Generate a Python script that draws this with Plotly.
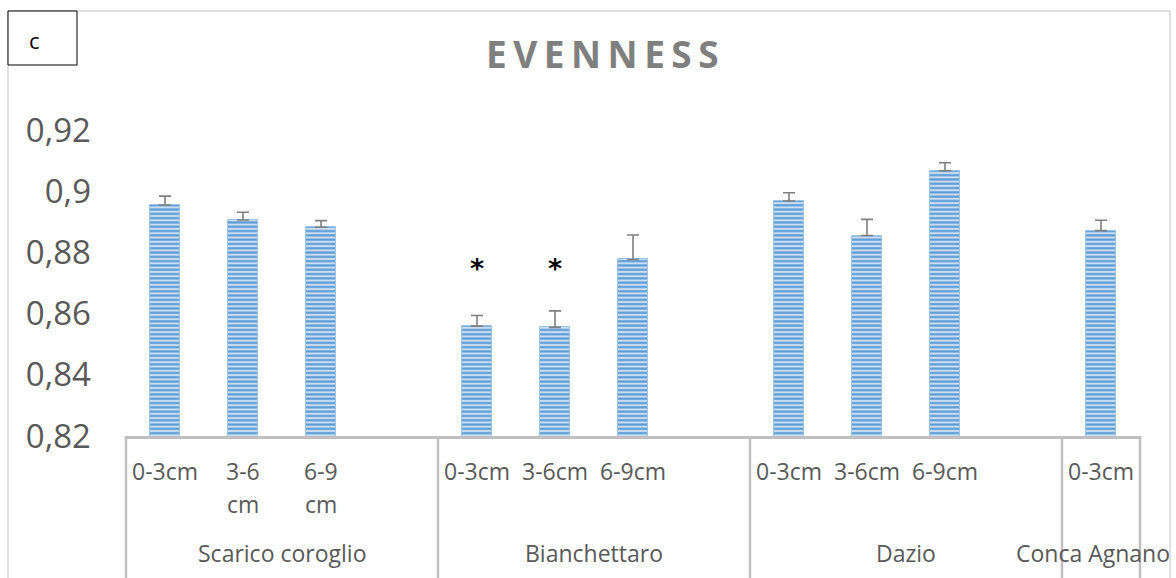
import plotly.graph_objects as go

# ---- data ----
groups = ["Scarico coroglio", "Bianchettaro", "Dazio", "Conca Agnano"]
depths = [["0-3cm", "3-6\ncm", "6-9\ncm"],
          ["0-3cm", "3-6cm", "6-9cm"],
          ["0-3cm", "3-6cm", "6-9cm"],
          ["0-3cm"]]
values = [[0.8955, 0.8906, 0.8882],
          [0.8559, 0.8555, 0.8777],
          [0.8968, 0.8855, 0.9067],
          [0.8871]]
errors = [[0.0029, 0.0025, 0.0022],
          [0.0035, 0.0054, 0.0080],
          [0.0027, 0.0053, 0.0026],
          [0.0034]]
significant = [[False, False, False],
               [True, True, False],
               [False, False, False],
               [False]]
y_ticks = [0.82, 0.84, 0.86, 0.88, 0.90, 0.92]
y_ticktext = ["0,82", "0,84", "0,86", "0,88", "0,9", "0,92"]

# ---- positions: each group gets its bars plus one trailing empty slot ----
xs, ys, es, labels, stars = [], [], [], [], []
group_spans = []
slot = 0
for gi, g in enumerate(groups):
    start = slot
    for di, d in enumerate(depths[gi]):
        xs.append(slot)
        ys.append(values[gi][di])
        es.append(errors[gi][di])
        labels.append(d)
        stars.append(significant[gi][di])
        slot += 1
    if gi < len(groups) - 1:
        slot += 1  # empty slot belongs to this group
    group_spans.append((start - 0.5, slot - 0.5))

x_min, x_max = -0.5, 12.5

W, H = 1176, 578
L, R, T, B = 126, 36, 130, 142
plot_w = W - L - R
plot_h = H - T - B

def px_to_paper_y(py):
    return (H - B - py) / plot_h

def px_to_paper_x(px):
    return (px - L) / plot_w

def x_to_paper(xv):
    return (xv - x_min) / (x_max - x_min)

fig = go.Figure()
fig.add_trace(go.Bar(
    x=xs, y=ys, width=0.385,
    marker=dict(
        color="#bdd7ee",
        line=dict(color="#9dc3e6", width=1),
        pattern=dict(shape="-", fgcolor="#5b9bd5", bgcolor="#c9def2",
                     size=4.3, solidity=0.5, fillmode="replace"),
    ),
    error_y=dict(type="data", array=es, arrayminus=[0] * len(es), symmetric=False,
                 color="#7f7f7f", thickness=1.6, width=6),
    showlegend=False, hoverinfo="skip",
))

annotations = []
label_font = dict(family="Open Sans, sans-serif", size=23, color="#595959")
for x, lab in zip(xs, labels):
    parts = lab.split("\n")
    for li, part in enumerate(parts):
        annotations.append(dict(x=x, xref="x", y=px_to_paper_y(471 + 33 * li), yref="paper",
                                text=part, showarrow=False, font=label_font,
                                xanchor="center", yanchor="middle"))
for x, s in zip(xs, stars):
    if s:
        annotations.append(dict(x=x, xref="x", y=px_to_paper_y(268), yref="paper",
                                text="<b>*</b>", showarrow=False,
                                font=dict(family="DejaVu Sans, sans-serif", size=27, color="#000000"),
                                xanchor="center", yanchor="middle"))
for gi, ((a, b), g) in enumerate(zip(group_spans, groups)):
    last = gi == len(groups) - 1
    annotations.append(dict(x=(a + b) / 2, xref="x", y=px_to_paper_y(553), yref="paper",
                            text=g, showarrow=False, font=label_font,
                            xanchor="center", yanchor="middle",
                            xshift=-8 if last else 0))

# title
annotations.append(dict(
    x=px_to_paper_x(605), xref="paper", y=px_to_paper_y(53), yref="paper",
    text='<span style="letter-spacing:6.5px">EVENNESS</span>', showarrow=False,
    font=dict(family="Open Sans, sans-serif", size=37, color="#7f7f7f", weight="bold"),
    xanchor="center", yanchor="middle"))
# panel letter
annotations.append(dict(
    x=px_to_paper_x(34), xref="paper", y=px_to_paper_y(40), yref="paper",
    text="c", showarrow=False, xanchor="center", yanchor="middle",
    font=dict(family="Open Sans, sans-serif", size=22, color="#000000")))

shapes = []
# outer frame
frame = dict(color="#d9d9d9", width=1.5)
shapes.append(dict(type="line", xref="paper", yref="paper",
                   x0=px_to_paper_x(8), x1=px_to_paper_x(1170),
                   y0=px_to_paper_y(11), y1=px_to_paper_y(11), line=frame))
shapes.append(dict(type="line", xref="paper", yref="paper",
                   x0=px_to_paper_x(8), x1=px_to_paper_x(8),
                   y0=px_to_paper_y(11), y1=px_to_paper_y(600), line=frame))
shapes.append(dict(type="line", xref="paper", yref="paper",
                   x0=px_to_paper_x(1170), x1=px_to_paper_x(1170),
                   y0=px_to_paper_y(11), y1=px_to_paper_y(600), line=frame))
# panel box
shapes.append(dict(type="rect", xref="paper", yref="paper",
                   x0=px_to_paper_x(8), x1=px_to_paper_x(77),
                   y0=px_to_paper_y(11), y1=px_to_paper_y(65),
                   line=dict(color="#000000", width=1), fillcolor="#ffffff"))
# category dividers
divs = sorted(set([s for span in group_spans for s in span]))
for d in divs:
    shapes.append(dict(type="line", xref="paper", yref="paper",
                       x0=x_to_paper(d), x1=x_to_paper(d),
                       y0=0, y1=px_to_paper_y(600),
                       line=dict(color="#bfbfbf", width=2.5)))

fig.update_layout(
    width=W, height=H,
    margin=dict(l=L, r=R, t=T, b=B),
    paper_bgcolor="#ffffff", plot_bgcolor="#ffffff",
    bargap=0,
    xaxis=dict(range=[x_min, x_max], showgrid=False, zeroline=False,
               showticklabels=False, ticks="", showline=True,
               linecolor="#bfbfbf", linewidth=2.5),
    yaxis=dict(range=[0.82, 0.92], tickvals=y_ticks, ticktext=y_ticktext,
               showgrid=False, zeroline=False, showline=False, ticks="",
               ticklabelstandoff=34,
               tickfont=dict(family="Open Sans, sans-serif", size=33, color="#595959")),
    annotations=annotations,
    shapes=shapes,
)

fig.write_html("out.html")
